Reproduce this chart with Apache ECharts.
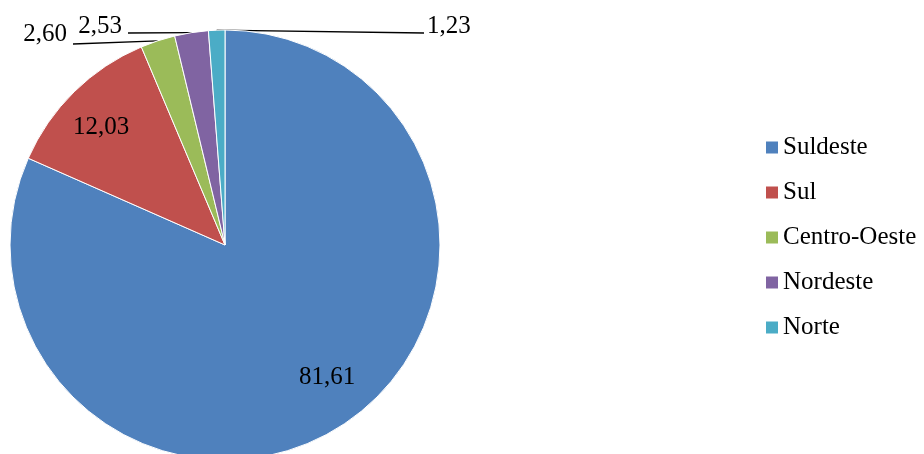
<!DOCTYPE html>
<html>
<head>
<meta charset="utf-8">
<script src="https://cdn.jsdelivr.net/npm/echarts@6/dist/echarts.min.js"></script>
<style>
html,body{margin:0;padding:0;background:#fff;}
#chart{width:924px;height:454px;}
</style>
</head>
<body>
<div id="chart"></div>
<script>
const categories = ['Suldeste', 'Sul', 'Centro-Oeste', 'Nordeste', 'Norte'];
const values = [81.61, 12.03, 2.60, 2.53, 1.23];
const valueLabels = ['81,61', '12,03', '2,60', '2,53', '1,23'];

const colors = ['#4F81BD', '#C0504D', '#9BBB59', '#8064A2', '#4BACC6'];
const FONT = '"Liberation Serif", "Times New Roman", serif';
const CX = 225, CY = 245, R = 215;

// label placement (text positions) and leader-line end points
const labelPlace = [
  { x: 327, y: 377, align: 'center' },
  { x: 101, y: 127, align: 'center' },
  { x: 67, y: 34, align: 'right', lx: 73, ly: 44 },
  { x: 122, y: 26, align: 'right', lx: 128, ly: 33 },
  { x: 427, y: 26, align: 'left', lx: 424, ly: 33 }
];

const total = values.reduce((a, b) => a + b, 0);
function edgePoint(i) {
  let before = 0;
  for (let k = 0; k < i; k++) before += values[k];
  const mid = (before + values[i] / 2) / total * 2 * Math.PI;
  return [CX + R * Math.sin(mid), CY - R * Math.cos(mid)];
}

const data = categories.map((name, i) => {
  const item = { name: name, value: values[i], itemStyle: { color: colors[i] } };
  if (i < 2) item.label = { position: 'inside' };
  return item;
});

const chart = echarts.init(document.getElementById('chart'), null, { renderer: 'canvas' });
chart.setOption({
  animation: false,
  backgroundColor: '#ffffff',
  legend: {
    orient: 'vertical',
    left: 761,
    top: 130,
    itemWidth: 12,
    itemHeight: 12,
    itemGap: 20,
    itemTextGap: 4,
    icon: 'rect',
    itemStyle: { borderWidth: 0 },
    textStyle: { fontFamily: FONT, fontSize: 25, color: '#000', lineHeight: 25 },
    data: categories
  },
  series: [{
    type: 'pie',
    center: [CX, CY],
    radius: [0, R],
    startAngle: 90,
    clockwise: true,
    avoidLabelOverlap: false,
    itemStyle: { borderColor: '#ffffff', borderWidth: 1 },
    emphasis: { disabled: true },
    label: {
      show: true,
      position: 'outside',
      formatter: p => valueLabels[p.dataIndex],
      fontFamily: FONT,
      fontSize: 25,
      color: '#000'
    },
    labelLine: {
      show: true,
      length: 5,
      length2: 20,
      smooth: false,
      lineStyle: { color: '#000', width: 1.3 }
    },
    labelLayout: function (p) {
      const i = p.dataIndex;
      const pl = labelPlace[i];
      const out = { x: pl.x, y: pl.y, align: pl.align, verticalAlign: 'middle' };
      if (pl.lx != null) {
        const start = (p.labelLinePoints && p.labelLinePoints[0]) ? p.labelLinePoints[0] : edgePoint(i);
        out.labelLinePoints = [[start[0], start[1]], [pl.lx, pl.ly]];
      }
      return out;
    },
    data: data
  }]
});
</script>
</body>
</html>
